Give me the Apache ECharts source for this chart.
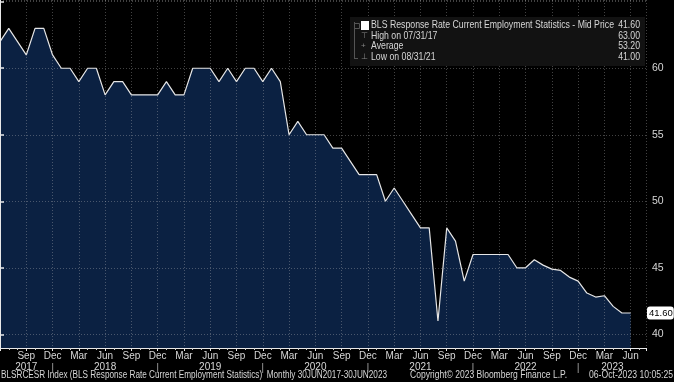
<!DOCTYPE html>
<html>
<head>
<meta charset="utf-8">
<script src="https://cdn.jsdelivr.net/npm/echarts@6/dist/echarts.min.js"></script>
<style>
html,body{margin:0;padding:0;background:#000;}
#c{width:674px;height:382px;}
</style>
</head>
<body>
<div id="c"></div>
<script>
// Monthly observations, Jun 2017 .. Jun 2023
const startYear = 2017;
const startMonth = 5; // June (0-based)
const monthNames = ['Jan','Feb','Mar','Apr','May','Jun','Jul','Aug','Sep','Oct','Nov','Dec'];
const values = [
  62, 63, 62, 61, 63, 63, 61,
  60, 60, 59, 60, 60, 58, 59, 59, 58, 58, 58, 58,
  59, 58, 58, 60, 60, 60, 59, 60, 59, 60, 60, 59,
  60, 59, 55, 56, 55, 55, 55, 54, 54, 53, 52, 52,
  52, 50, 51, 50, 49, 48, 48, 41, 48, 47, 44, 46,
  46, 46, 46, 46, 45, 45, 45.6, 45.2, 44.9, 44.8, 44.3, 44.0,
  43.1, 42.8, 42.9, 42.1, 41.6, 41.6
];
const legendTitle = 'BLS Response Rate Current Employment Statistics - Mid Price';
const legendRows = [
  ['High on 07/31/17', '63.00'],
  ['Average', '53.20'],
  ['Low on 08/31/21', '41.00']
];
const lastLabel = '41.60';
const footerLeft = 'BLSRCESR Index (BLS Response Rate Current Employment Statistics)  Monthly 30JUN2017-30JUN2023';
const footerMid = 'Copyright\u00A9 2023 Bloomberg Finance L.P.';
const footerRight = '06-Oct-2023 10:05:25';

const FONT = '"Liberation Sans", Arial, sans-serif';
const TXT = '#d6d6d6';

const seriesData = values.map((v, i) => [i, v]);

const mctx = document.createElement('canvas').getContext('2d');
function fitScale(text, font, target) {
  mctx.font = font;
  return target / mctx.measureText(text).width;
}

function monthLabel(val) {
  const i = Math.round(val);
  if (Math.abs(val - i) > 1e-6 || i <= 0 || i > values.length - 1 || i % 3 !== 0) return '';
  const m = (startMonth + i) % 12;
  const y = startYear + Math.floor((startMonth + i) / 12);
  const name = monthNames[m];
  let second = '';
  if (i === 3) second = '{yr|' + y + '}';
  else if (name === 'Jun' && i >= 12 && i < values.length - 1) second = '{yr|' + y + '}';
  else if (name === 'Mar' && y === 2023) second = '{yo|' + y + '}';
  else if (name === 'Dec') second = '{sep||}';
  return '{mo|' + name + '}\n' + (second || '{yr| }');
}

const chart = echarts.init(document.getElementById('c'), null, {renderer: 'canvas'});
const LF = '10.5px ' + FONT;
const FF = '10px ' + FONT;
const sTitle = fitScale(legendTitle, LF, 243);
const graphics = [
  {type: 'rect', left: 350, top: 17, shape: {width: 295, height: 49}, style: {fill: '#121212'}, z: 10},
  {type: 'rect', left: 361, top: 21, shape: {width: 8, height: 9}, style: {fill: '#ffffff'}, z: 11},
  {type: 'text', x: 371, y: 20, scaleX: sTitle, style: {text: legendTitle, fill: TXT, font: LF}, z: 11},
  {type: 'text', x: 640, y: 20, scaleX: sTitle, style: {text: lastLabel, fill: TXT, font: LF, align: 'right'}, z: 11},
  {type: 'line', shape: {x1: 354.5, y1: 22, x2: 354.5, y2: 58}, style: {stroke: '#555', lineWidth: 1}, z: 11},
  {type: 'line', shape: {x1: 354, y1: 58.5, x2: 358, y2: 58.5}, style: {stroke: '#555', lineWidth: 1}, z: 11},
  {type: 'rect', left: 352, top: 21, shape: {width: 5, height: 5}, style: {fill: 'none', stroke: '#555', lineWidth: 1}, z: 11}
];
const icons = ['\u22A4', '+', '\u22A5'];
legendRows.forEach((r, k) => {
  const y = 30.5 + k * 10.5;
  graphics.push({type: 'text', x: 361, y: y + 1, style: {text: icons[k], fill: '#888', font: '8px ' + FONT}, z: 11});
  graphics.push({type: 'text', x: 371, y: y, scaleX: sTitle, style: {text: r[0], fill: TXT, font: LF}, z: 11});
  graphics.push({type: 'text', x: 640, y: y, scaleX: sTitle, style: {text: r[1], fill: TXT, font: LF, align: 'right'}, z: 11});
});
graphics.push({type: 'text', x: 1, y: 370, scaleX: fitScale(footerLeft, FF, 386), style: {text: footerLeft, fill: TXT, font: FF}});
graphics.push({type: 'text', x: 410, y: 370, scaleX: fitScale(footerMid, FF, 157), style: {text: footerMid, fill: TXT, font: FF}});
graphics.push({type: 'text', x: 673, y: 370, scaleX: fitScale(footerRight, FF, 84), style: {text: footerRight, fill: TXT, font: FF, align: 'right'}});

chart.setOption({
  backgroundColor: '#000000',
  animation: false,
  grid: {left: 0, right: 28, top: 0, bottom: 34, containLabel: false},
  xAxis: {
    type: 'value',
    min: 0,
    max: 73.75,
    interval: 3,
    z: 4,
    axisLine: {show: true, lineStyle: {color: '#e8e8e8', width: 1}},
    axisTick: {show: true, length: 3, lineStyle: {color: '#e8e8e8'}},
    minorTick: {show: true, splitNumber: 3, length: 2, lineStyle: {color: '#cfcfcf'}},
    splitLine: {show: true, lineStyle: {color: 'rgba(190,190,190,0.35)', type: [1, 2], width: 1}},
    axisLabel: {
      show: true, margin: 3, showMinLabel: false, showMaxLabel: false,
      formatter: monthLabel,
      rich: {
        mo: {fontFamily: FONT, fontSize: 10, color: TXT, lineHeight: 11},
        yr: {fontFamily: FONT, fontSize: 10, color: TXT, lineHeight: 11},
        yo: {fontFamily: FONT, fontSize: 10, color: TXT, lineHeight: 11, padding: [0, 0, 0, 16]},
        sep: {fontFamily: FONT, fontSize: 11, color: '#9a9a9a', lineHeight: 11}
      }
    }
  },
  yAxis: {
    type: 'value',
    position: 'right',
    min: 38.97,
    max: 65.13,
    splitNumber: 5,
    z: 4,
    axisLine: {show: true, lineStyle: {color: '#e8e8e8', width: 1}},
    axisTick: {show: true, length: 4, inside: false, lineStyle: {color: '#e8e8e8', width: 1.5}},
    splitLine: {show: true, lineStyle: {color: 'rgba(190,190,190,0.35)', type: [1, 2], width: 1}},
    axisLabel: {
      show: true, margin: 6, showMinLabel: false, showMaxLabel: false,
      fontFamily: FONT, fontSize: 10.5, color: TXT,
      formatter: v => (Math.abs(v - Math.round(v)) < 1e-6 && v % 5 === 0 && v < 65) ? String(v) : ''
    }
  },
  series: [{
    type: 'line',
    data: seriesData,
    symbol: 'none',
    z: 2,
    lineStyle: {color: '#e6e6e6', width: 1.2},
    areaStyle: {color: '#0b2142', opacity: 1, origin: 'start'},
    markLine: {
      silent: true,
      symbol: 'none',
      lineStyle: {color: 'rgba(0,0,0,0)', width: 0},
      data: [{yAxis: values[values.length - 1]}],
      label: {
        show: true, position: 'end', distance: 1,
        formatter: lastLabel,
        backgroundColor: '#ffffff', color: '#000000',
        fontFamily: FONT, fontSize: 9.5,
        padding: [2, 1, 1, 2], borderRadius: 3
      }
    }
  }],
  graphic: graphics
});
</script>
</body>
</html>
